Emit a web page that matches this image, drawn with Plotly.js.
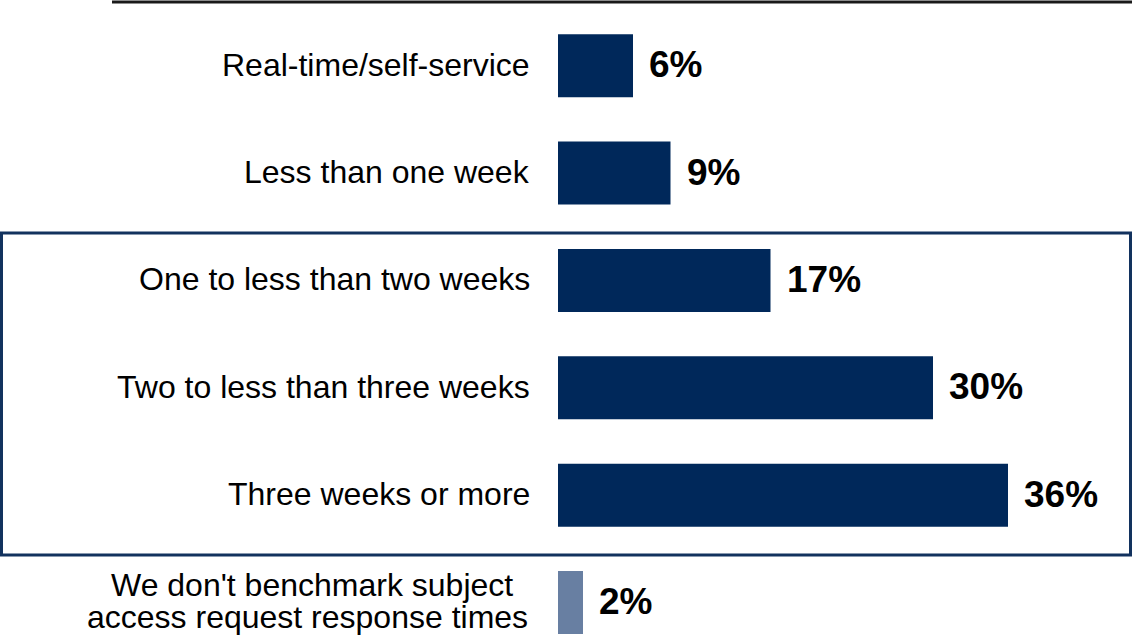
<!DOCTYPE html>
<html>
<head>
<meta charset="utf-8">
<script src="https://cdn.plot.ly/plotly-3.0.1.min.js"></script>
<style>
html,body{margin:0;padding:0;background:#fff;}
#chart{width:1132px;height:640px;}
</style>
</head>
<body>
<div id="chart"></div>
<script>
// ---- data ----
const categories = [
  "Real-time/self-service",
  "Less than one week",
  "One to less than two weeks",
  "Two to less than three weeks",
  "Three weeks or more",
  "We don't benchmark subject<br>access request response times"
];
const values = [6, 9, 17, 30, 36, 2];
const valueLabels = ["6%", "9%", "17%", "30%", "36%", "2%"];

// ---- styles ----
const NAVY = "#00285A";
const GREYBLUE = "#687FA2";
const barColors = categories.map((c, i) => i === categories.length - 1 ? GREYBLUE : NAVY);
const FONT = "Liberation Sans, Arial, sans-serif";

const trace = {
  type: "bar",
  orientation: "h",
  x: values,
  y: categories,
  marker: {color: barColors, line: {width: 0}},
  hoverinfo: "none"
};

const annotations = [];
categories.forEach((cat, i) => {
  const lines = cat.split("<br>");
  if (lines.length === 1) {
    annotations.push({
      xref: "paper", x: 0, yref: "y", y: cat,
      xanchor: "right", yanchor: "middle", xshift: -26, yshift: 1,
      text: lines[0], showarrow: false,
      font: {family: FONT, size: 32, color: "#000"}
    });
  } else {
    annotations.push({
      xref: "paper", x: 0, yref: "y", y: cat,
      xanchor: "right", yanchor: "middle", xshift: -43, yshift: 18,
      text: lines[0], showarrow: false,
      font: {family: FONT, size: 32, color: "#000"}
    });
    annotations.push({
      xref: "paper", x: 0, yref: "y", y: cat,
      xanchor: "right", yanchor: "middle", xshift: -28, yshift: -14,
      text: lines[1], showarrow: false,
      font: {family: FONT, size: 32, color: "#000"}
    });
  }
  annotations.push({
    xref: "x", x: values[i], yref: "y", y: cat,
    xanchor: "left", yanchor: "middle", xshift: 14, yshift: 1,
    text: "<b>" + valueLabels[i] + "</b>", showarrow: false,
    font: {family: FONT, size: 37, color: "#000"}
  });
});

const layout = {
  width: 1132, height: 640,
  margin: {l: 558, r: 74, t: 12, b: 0, pad: 0},
  paper_bgcolor: "#fff", plot_bgcolor: "#fff",
  showlegend: false,
  bargap: 0.413,
  xaxis: {visible: false, range: [0, 40], fixedrange: true},
  yaxis: {visible: false, type: "category", range: [5.349, -0.5], fixedrange: true},
  annotations: annotations,
  shapes: [
    {type: "line", xref: "paper", yref: "paper", x0: -0.892, x1: 1.148, y0: 1.0159, y1: 1.0159,
     line: {color: "#1a1a1a", width: 3}},
    {type: "rect", xref: "paper", yref: "y", x0: -1.113, x1: 1.145, y0: 1.558, y1: 4.557,
     line: {color: "#12325E", width: 3}, fillcolor: "rgba(0,0,0,0)", layer: "below"}
  ]
};

Plotly.newPlot("chart", [trace], layout, {displayModeBar: false, staticPlot: true});
</script>
</body>
</html>
